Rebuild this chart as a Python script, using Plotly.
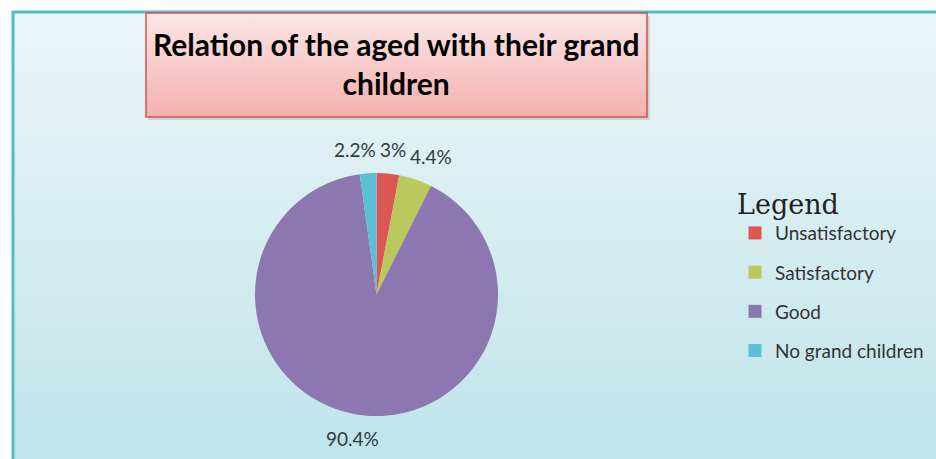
import math
import plotly.graph_objects as go

# ---- data ----
categories = ["Unsatisfactory", "Satisfactory", "Good", "No grand children"]
values = [3, 4.4, 90.4, 2.2]
colors = ["#dc5754", "#b9c95b", "#8c77b0", "#5cc0d5"]
title_text = "Relation of the aged with their grand<br>children"

W, H = 936, 459
# pie box in pixels (left, right, top, bottom)
PL, PR, PT, PB = 255, 498, 173, 416

fig = go.Figure()

# background panel with vertical gradient (decoration in pixel coords)
fig.add_trace(go.Scatter(
    x=[13, W, W, 13, 13], y=[12, 12, H, H, 12], mode="lines",
    line=dict(width=0), fill="toself",
    fillgradient=dict(type="vertical", start=12, stop=H,
                      colorscale=[[0, "rgb(236,245,247)"], [1, "rgb(191,228,235)"]]),
    hoverinfo="skip", showlegend=False))
# frame border top & left
fig.add_trace(go.Scatter(
    x=[13, 13, W], y=[H, 12, 12], mode="lines",
    line=dict(width=3, color="#52b9cf"), hoverinfo="skip", showlegend=False))

# title box shadow
fig.add_trace(go.Scatter(
    x=[148, 650, 650, 148, 148], y=[16, 16, 120, 120, 16], mode="lines",
    line=dict(width=0), fill="toself", fillcolor="rgba(120,120,120,0.22)",
    hoverinfo="skip", showlegend=False))
# title box
fig.add_trace(go.Scatter(
    x=[146, 647, 647, 146, 146], y=[13, 13, 117, 117, 13], mode="lines",
    line=dict(width=1.5, color="#d4504f"), fill="toself",
    fillgradient=dict(type="vertical", start=13, stop=117,
                      colorscale=[[0, "rgb(249,231,231)"], [1, "rgb(245,176,174)"]]),
    hoverinfo="skip", showlegend=False))

# pie
fig.add_trace(go.Pie(
    labels=categories, values=values, sort=False, direction="clockwise", rotation=0,
    marker=dict(colors=colors, line=dict(width=0)),
    textinfo="none",
    domain=dict(x=[PL / W, PR / W], y=[(H - PB) / H, (H - PT) / H]),
    showlegend=False, hoverinfo="label+percent"))

# outside percentage labels placed around the pie from the slice angles
cx, cy, r = (PL + PR) / 2, (PT + PB) / 2, (PR - PL) / 2
FS = 19
charw = {"%": 0.79, ".": 0.26}
labels_txt = [f"{v:g}%" for v in values]
widths = [sum(charw.get(ch, 0.58) for ch in t) * FS for t in labels_txt]
total = sum(values)
pos = []
cum = 0.0
for v in values:
    mid = math.radians((cum + v / 2) / total * 360)
    cum += v
    Rc = r + 24
    pos.append([cx + Rc * math.sin(mid), cy - Rc * math.cos(mid)])
# simple overlap relaxation
for _ in range(60):
    moved = False
    for i in range(len(pos)):
        for j in range(i + 1, len(pos)):
            if abs(pos[i][1] - pos[j][1]) < FS * 0.8:
                need = (widths[i] + widths[j]) / 2 + 4 - abs(pos[i][0] - pos[j][0])
                if need > 0.5:
                    s = 1 if pos[i][0] < pos[j][0] else -1
                    pos[i][0] -= s * need / 2
                    pos[j][0] += s * need / 2
                    moved = True
    if not moved:
        break
for t, (px, py) in zip(labels_txt, pos):
    fig.add_annotation(x=px, y=py, xref="x", yref="y", text=t, showarrow=False,
                       xanchor="center", yanchor="middle",
                       font=dict(family="Lato", size=FS, color="#2f3a40"))

# legend entries
for name, c in zip(categories, colors):
    fig.add_trace(go.Scatter(
        x=[None], y=[None], mode="markers", name=name, legendgroup=name,
        marker=dict(symbol="square", size=13, color=c)))

fig.add_annotation(
    x=396, y=63, xref="x", yref="y", text=title_text, showarrow=False,
    font=dict(family="Lato", size=30, color="black", weight="bold"),
    align="center")

fig.update_layout(
    width=W, height=H, margin=dict(l=0, r=0, t=0, b=0),
    paper_bgcolor="white", plot_bgcolor="rgba(0,0,0,0)",
    xaxis=dict(range=[0, W], visible=False, domain=[0, 1], fixedrange=True),
    yaxis=dict(range=[H, 0], visible=False, domain=[0, 1], fixedrange=True),
    showlegend=True,
    legend=dict(
        x=735 / W, y=1 - 179 / H, xanchor="left", yanchor="top",
        bgcolor="rgba(0,0,0,0)", tracegroupgap=11.5,
        font=dict(family="Lato", size=19, color="#333"),
        title=dict(text="Legend", font=dict(family="DejaVu Serif", size=27, color="#222")),
    ),
)

fig.write_html("out.html")
